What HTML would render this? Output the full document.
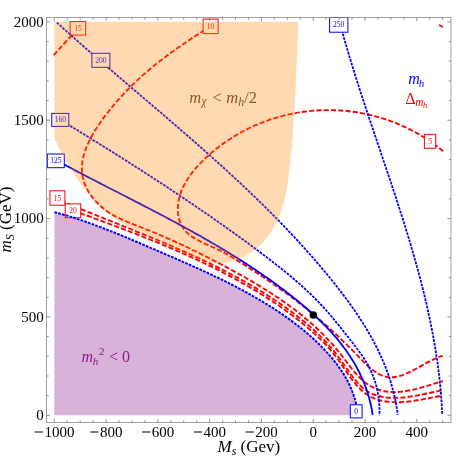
<!DOCTYPE html>
<html><head><meta charset="utf-8"><title>plot</title>
<style>html,body{margin:0;padding:0;background:#fff;}body{width:469px;height:457px;overflow:hidden;position:relative;font-family:"Liberation Serif",serif;}</style>
</head><body>
<svg width="469" height="457" viewBox="0 0 469 457" style="position:absolute;left:0;top:0;will-change:transform;font-family:'Liberation Serif',serif">
<rect width="469" height="457" fill="#fff"/>
<path d="M54.5 212.2C55.1 212.3 57.1 212.8 58.4 213.2C59.7 213.6 61.0 213.9 62.3 214.3C63.6 214.7 64.9 215.0 66.2 215.4C67.5 215.8 68.8 216.2 70.1 216.6C71.4 217.0 72.7 217.4 74.0 217.8C75.3 218.2 76.6 218.7 77.9 219.1C79.1 219.5 80.4 219.9 81.7 220.4C83.0 220.8 84.3 221.2 85.6 221.7C86.9 222.1 88.1 222.6 89.4 223.1C90.7 223.5 92.0 224.0 93.3 224.4C94.5 224.9 95.8 225.4 97.1 225.9C98.4 226.3 99.6 226.8 100.9 227.3C102.2 227.8 103.5 228.3 104.7 228.8C106.0 229.3 107.3 229.8 108.5 230.3C109.8 230.8 111.1 231.3 112.4 231.8C113.6 232.3 114.9 232.8 116.1 233.3C117.4 233.8 118.7 234.3 119.9 234.8C121.2 235.4 122.5 235.9 123.7 236.4C125.0 236.9 126.3 237.5 127.5 238.0C128.8 238.5 130.0 239.0 131.3 239.6C132.5 240.1 133.8 240.6 135.1 241.2C136.3 241.7 137.6 242.2 138.8 242.8C140.1 243.3 141.3 243.9 142.6 244.4C143.8 244.9 145.1 245.5 146.4 246.0C147.6 246.5 148.9 247.1 150.1 247.6C151.4 248.2 152.6 248.7 153.9 249.2C155.1 249.8 156.4 250.3 157.6 250.9C158.9 251.4 160.1 251.9 161.4 252.5C162.6 253.0 163.9 253.5 165.1 254.1C166.4 254.6 167.6 255.2 168.8 255.7C170.1 256.2 171.3 256.8 172.6 257.3C173.8 257.8 175.1 258.4 176.3 258.9C177.6 259.5 178.8 260.0 180.0 260.5C181.3 261.1 182.5 261.6 183.8 262.2C185.0 262.7 186.2 263.3 187.5 263.8C188.7 264.4 189.9 264.9 191.2 265.5C192.4 266.0 193.7 266.6 194.9 267.1C196.1 267.7 197.4 268.2 198.6 268.8C199.8 269.3 201.0 269.9 202.3 270.5C203.5 271.0 204.7 271.6 206.0 272.2C207.2 272.7 208.4 273.3 209.6 273.9C210.9 274.4 212.1 275.0 213.3 275.6C214.5 276.2 215.7 276.8 217.0 277.3C218.2 277.9 219.4 278.5 220.6 279.1C221.8 279.7 223.0 280.3 224.2 280.9C225.5 281.5 226.7 282.1 227.9 282.7C229.1 283.3 230.3 283.9 231.5 284.5C232.7 285.1 233.9 285.8 235.1 286.4C236.3 287.0 237.5 287.6 238.7 288.3C239.9 288.9 241.1 289.5 242.3 290.2C243.5 290.8 244.7 291.5 245.9 292.1C247.1 292.8 248.3 293.4 249.4 294.1C250.6 294.7 251.8 295.4 253.0 296.1C254.2 296.7 255.4 297.4 256.5 298.1C257.7 298.8 258.9 299.5 260.1 300.2C261.3 300.9 262.4 301.6 263.6 302.3C264.8 303.0 265.9 303.7 267.1 304.4C268.3 305.1 269.4 305.9 270.6 306.6C271.7 307.3 272.9 308.1 274.1 308.8C275.2 309.6 276.4 310.3 277.5 311.1C278.6 311.8 279.8 312.6 280.9 313.4C282.1 314.1 283.2 314.9 284.3 315.7C285.5 316.5 286.6 317.3 287.7 318.1C288.8 318.9 289.9 319.7 291.0 320.5C292.1 321.3 293.2 322.1 294.3 323.0C295.4 323.8 296.5 324.6 297.6 325.5C298.7 326.3 299.7 327.2 300.8 328.0C301.9 328.9 302.9 329.7 304.0 330.6C305.0 331.5 306.1 332.4 307.1 333.2C308.2 334.1 309.2 335.0 310.2 335.9C311.2 336.8 312.3 337.8 313.3 338.7C314.3 339.6 315.3 340.5 316.2 341.5C317.2 342.4 318.2 343.3 319.2 344.3C320.1 345.2 321.1 346.2 322.0 347.2C323.0 348.1 323.9 349.1 324.8 350.1C325.8 351.1 326.7 352.1 327.6 353.1C328.5 354.1 329.4 355.1 330.3 356.1C331.2 357.2 332.0 358.2 332.9 359.2C333.7 360.3 334.6 361.3 335.4 362.4C336.2 363.4 337.0 364.5 337.8 365.6C338.6 366.7 339.4 367.8 340.2 368.9C340.9 370.0 341.7 371.1 342.4 372.2C343.1 373.3 343.9 374.5 344.5 375.6C345.2 376.8 345.9 377.9 346.5 379.1C347.2 380.3 347.8 381.5 348.4 382.7C349.0 383.9 349.6 385.1 350.1 386.3C350.7 387.6 351.2 388.8 351.7 390.1C352.2 391.3 352.7 392.6 353.2 393.9C353.6 395.2 354.1 396.5 354.5 397.8C354.9 399.2 355.2 400.5 355.6 401.9C355.9 403.2 356.3 405.3 356.5 406.0 L356 415.2 L54.3 415.2 Z" fill="#800080" fill-opacity="0.3"/>
<g fill="none" stroke="#ff0000" stroke-width="1.9" stroke-dasharray="5.1 2.2">
<path d="M443.2 151.3C442.7 150.9 441.1 149.6 440.0 148.7C438.9 147.8 437.8 147.0 436.7 146.1C435.6 145.3 434.5 144.5 433.3 143.7C432.2 142.8 431.1 142.0 429.9 141.3C428.8 140.5 427.6 139.7 426.5 139.0C425.3 138.2 424.2 137.5 423.0 136.8C421.8 136.0 420.7 135.3 419.5 134.6C418.3 133.9 417.1 133.3 415.9 132.6C414.7 131.9 413.5 131.3 412.3 130.7C411.1 130.0 409.9 129.4 408.7 128.8C407.5 128.2 406.2 127.6 405.0 127.0C403.8 126.5 402.6 125.9 401.3 125.4C400.1 124.8 398.8 124.3 397.6 123.8C396.3 123.2 395.1 122.7 393.8 122.3C392.6 121.8 391.3 121.3 390.0 120.8C388.8 120.4 387.5 119.9 386.2 119.5C384.9 119.1 383.7 118.7 382.4 118.3C381.1 117.9 379.8 117.5 378.5 117.1C377.2 116.8 375.9 116.4 374.6 116.1C373.3 115.7 372.0 115.4 370.7 115.1C369.4 114.8 368.1 114.5 366.8 114.2C365.5 113.9 364.2 113.6 362.9 113.4C361.6 113.1 360.3 112.9 359.0 112.7C357.6 112.4 356.3 112.2 355.0 112.0C353.7 111.8 352.4 111.7 351.0 111.5C349.7 111.3 348.4 111.2 347.1 111.0C345.7 110.9 344.4 110.8 343.1 110.7C341.7 110.6 340.4 110.5 339.1 110.4C337.7 110.3 336.4 110.3 335.1 110.2C333.8 110.2 332.4 110.1 331.1 110.1C329.8 110.1 328.4 110.1 327.1 110.1C325.8 110.1 324.4 110.1 323.1 110.2C321.8 110.2 320.4 110.2 319.1 110.3C317.8 110.4 316.4 110.5 315.1 110.6C313.8 110.7 312.5 110.8 311.1 110.9C309.8 111.0 308.5 111.2 307.1 111.3C305.8 111.5 304.5 111.6 303.2 111.8C301.9 112.0 300.5 112.2 299.2 112.4C297.9 112.6 296.6 112.8 295.3 113.1C294.0 113.3 292.7 113.6 291.3 113.9C290.0 114.1 288.7 114.4 287.4 114.7C286.1 115.0 284.8 115.3 283.5 115.6C282.2 116.0 280.9 116.3 279.7 116.7C278.4 117.0 277.1 117.4 275.8 117.8C274.5 118.2 273.2 118.6 272.0 119.0C270.7 119.4 269.4 119.8 268.2 120.3C266.9 120.7 265.6 121.2 264.4 121.6C263.1 122.1 261.9 122.6 260.6 123.1C259.4 123.6 258.1 124.1 256.9 124.6C255.6 125.2 254.4 125.7 253.2 126.3C251.9 126.8 250.7 127.4 249.5 128.0C248.3 128.6 247.1 129.2 245.9 129.8C244.7 130.4 243.5 131.0 242.3 131.7C241.1 132.3 239.9 133.0 238.7 133.7C237.5 134.3 236.4 135.0 235.2 135.7C234.0 136.4 232.9 137.1 231.7 137.9C230.6 138.6 229.4 139.3 228.3 140.1C227.1 140.9 226.0 141.6 224.9 142.4C223.7 143.2 222.6 144.0 221.5 144.8C220.4 145.6 219.3 146.5 218.2 147.3C217.1 148.2 216.0 149.0 215.0 149.9C213.9 150.8 212.8 151.7 211.7 152.6C210.7 153.5 209.6 154.4 208.6 155.3C207.6 156.2 206.5 157.2 205.5 158.1C204.5 159.1 203.5 160.1 202.5 161.1C201.5 162.0 200.5 163.0 199.5 164.1C198.6 165.1 197.6 166.1 196.7 167.1C195.8 168.2 194.9 169.2 194.0 170.3C193.1 171.4 192.3 172.5 191.5 173.5C190.6 174.6 189.8 175.7 189.1 176.9C188.3 178.0 187.6 179.1 186.9 180.2C186.1 181.4 185.5 182.5 184.8 183.7C184.2 184.9 183.6 186.1 183.0 187.2C182.5 188.4 182.0 189.6 181.5 190.8C181.0 192.1 180.6 193.3 180.2 194.5C179.8 195.7 179.4 197.0 179.1 198.2C178.8 199.5 178.6 200.8 178.4 202.0C178.2 203.3 178.0 204.6 178.0 205.9C177.9 207.2 177.8 208.5 177.8 209.8C177.9 211.1 177.9 212.4 178.1 213.7C178.2 215.0 178.4 216.2 178.7 217.5C178.9 218.7 179.3 219.9 179.7 221.1C180.1 222.3 180.6 223.5 181.1 224.6C181.7 225.7 182.3 226.8 183.0 227.8C183.7 228.9 184.4 229.9 185.3 230.8C186.1 231.7 187.0 232.6 188.0 233.5C189.0 234.3 190.0 235.1 191.1 235.9C192.1 236.7 193.3 237.4 194.4 238.1C195.6 238.8 196.8 239.5 198.0 240.2C199.3 240.9 200.5 241.5 201.8 242.1C203.1 242.8 204.4 243.4 205.7 244.0C207.0 244.6 208.4 245.2 209.7 245.7C211.0 246.3 212.3 246.9 213.6 247.5C214.9 248.1 216.2 248.7 217.5 249.3C218.8 249.9 220.0 250.5 221.3 251.1C222.5 251.7 223.7 252.4 224.9 253.0C226.0 253.7 227.2 254.3 228.3 255.0C229.4 255.7 230.6 256.4 231.7 257.0C232.8 257.7 234.0 258.4 235.1 259.1C236.3 259.8 237.4 260.6 238.6 261.3C239.7 262.0 240.9 262.7 242.0 263.4C243.2 264.1 244.4 264.9 245.5 265.6C246.7 266.3 247.8 267.1 248.9 267.8C250.1 268.5 251.2 269.3 252.4 270.0C253.5 270.7 254.6 271.5 255.8 272.2C256.9 272.9 258.0 273.7 259.2 274.4C260.3 275.2 261.4 275.9 262.5 276.7C263.6 277.4 264.8 278.2 265.9 278.9C267.0 279.7 268.1 280.4 269.2 281.2C270.3 281.9 271.4 282.7 272.5 283.5C273.6 284.2 274.7 285.0 275.8 285.8C276.9 286.5 278.0 287.3 279.1 288.1C280.2 288.8 281.3 289.6 282.3 290.4C283.4 291.2 284.5 292.0 285.6 292.8C286.6 293.5 287.7 294.3 288.8 295.1C289.9 295.9 290.9 296.7 292.0 297.5C293.1 298.3 294.1 299.1 295.2 299.9C296.2 300.7 297.3 301.5 298.3 302.4C299.4 303.2 300.5 304.0 301.5 304.8C302.5 305.6 303.6 306.5 304.6 307.3C305.7 308.1 306.7 309.0 307.8 309.8C308.8 310.6 309.8 311.5 310.9 312.3C311.9 313.2 312.9 314.0 313.9 314.9C315.0 315.7 316.0 316.6 317.0 317.5C318.0 318.3 319.1 319.2 320.1 320.1C321.1 320.9 322.1 321.8 323.1 322.7C324.1 323.6 325.1 324.5 326.2 325.4C327.2 326.2 328.2 327.1 329.2 328.0C330.2 328.9 331.2 329.9 332.2 330.8C333.2 331.7 334.2 332.6 335.2 333.5C336.1 334.4 337.1 335.4 338.1 336.3C339.1 337.2 340.1 338.2 341.1 339.1C342.1 340.1 343.1 341.0 344.0 342.0C345.0 342.9 346.0 343.9 347.0 344.8C347.9 345.8 348.9 346.8 349.9 347.8C350.9 348.7 351.8 349.7 352.8 350.7C353.8 351.7 354.7 352.7 355.7 353.7C356.7 354.7 357.6 355.7 358.6 356.7C359.5 357.7 360.5 358.7 361.5 359.7C362.4 360.7 363.4 361.7 364.4 362.7C365.4 363.6 366.3 364.6 367.3 365.5C368.3 366.4 369.3 367.3 370.3 368.1C371.3 369.0 372.3 369.8 373.4 370.5C374.4 371.3 375.4 372.0 376.5 372.7C377.5 373.3 378.6 373.9 379.7 374.5C380.8 375.0 381.9 375.5 383.0 375.9C384.2 376.3 385.3 376.6 386.5 376.8C387.7 377.1 388.9 377.2 390.1 377.3C391.3 377.4 392.6 377.3 393.8 377.2C395.1 377.1 396.4 376.8 397.7 376.5C399.1 376.2 400.4 375.8 401.8 375.4C403.1 374.9 404.5 374.4 405.9 373.8C407.2 373.2 408.6 372.6 410.0 371.9C411.3 371.3 412.7 370.6 414.0 369.9C415.4 369.2 416.7 368.5 418.0 367.7C419.3 367.0 420.6 366.3 421.8 365.6C423.1 364.9 424.3 364.2 425.5 363.5C426.6 362.9 427.8 362.3 428.9 361.7C430.0 361.1 431.1 360.5 432.2 360.0C433.4 359.4 434.5 358.9 435.6 358.4C436.7 357.9 437.9 357.4 439.1 357.0C440.2 356.5 442.1 355.8 442.7 355.6"/>
<path d="M210.9 26.1C210.3 26.5 208.5 27.6 207.3 28.4C206.1 29.1 204.9 29.9 203.7 30.6C202.6 31.4 201.4 32.1 200.2 32.9C199.1 33.6 197.9 34.4 196.7 35.1C195.6 35.9 194.4 36.6 193.3 37.4C192.1 38.1 191.0 38.9 189.9 39.6C188.7 40.4 187.6 41.1 186.5 41.9C185.4 42.7 184.2 43.4 183.1 44.2C182.0 44.9 180.9 45.7 179.8 46.5C178.7 47.2 177.6 48.0 176.5 48.8C175.4 49.5 174.3 50.3 173.3 51.1C172.2 51.9 171.1 52.6 170.0 53.4C168.9 54.2 167.9 55.0 166.8 55.8C165.8 56.6 164.7 57.4 163.7 58.2C162.6 59.0 161.6 59.8 160.5 60.6C159.5 61.4 158.4 62.2 157.4 63.0C156.4 63.8 155.3 64.7 154.3 65.5C153.3 66.3 152.3 67.2 151.3 68.0C150.3 68.8 149.3 69.7 148.3 70.5C147.3 71.4 146.3 72.2 145.3 73.1C144.3 74.0 143.3 74.8 142.3 75.7C141.3 76.6 140.3 77.5 139.4 78.4C138.4 79.3 137.4 80.2 136.5 81.1C135.5 82.0 134.5 82.9 133.6 83.8C132.6 84.7 131.7 85.7 130.7 86.6C129.8 87.6 128.8 88.5 127.9 89.5C127.0 90.4 126.0 91.4 125.1 92.4C124.2 93.3 123.3 94.3 122.3 95.3C121.4 96.3 120.5 97.3 119.6 98.3C118.7 99.3 117.8 100.4 116.9 101.4C116.0 102.4 115.1 103.5 114.2 104.5C113.3 105.6 112.4 106.6 111.5 107.7C110.7 108.8 109.8 109.9 108.9 111.0C108.0 112.1 107.2 113.2 106.3 114.3C105.4 115.4 104.6 116.6 103.7 117.7C102.9 118.8 102.0 120.0 101.2 121.2C100.4 122.3 99.6 123.5 98.8 124.7C98.0 125.8 97.2 127.0 96.5 128.2C95.7 129.4 94.9 130.6 94.2 131.8C93.5 133.0 92.8 134.2 92.1 135.5C91.5 136.7 90.8 137.9 90.2 139.1C89.6 140.3 89.0 141.6 88.4 142.8C87.8 144.0 87.3 145.3 86.8 146.5C86.3 147.8 85.8 149.0 85.4 150.2C84.9 151.5 84.5 152.7 84.2 154.0C83.8 155.2 83.5 156.5 83.2 157.7C83.0 159.0 82.7 160.2 82.5 161.4C82.3 162.7 82.2 163.9 82.1 165.2C82.0 166.4 81.9 167.7 81.9 168.9C81.9 170.1 82.0 171.4 82.1 172.6C82.2 173.8 82.4 175.0 82.6 176.3C82.8 177.5 83.1 178.7 83.4 179.9C83.7 181.1 84.1 182.3 84.6 183.5C85.0 184.7 85.5 185.9 86.1 187.1C86.6 188.2 87.2 189.4 87.9 190.6C88.5 191.7 89.2 192.8 90.0 194.0C90.7 195.1 91.5 196.2 92.3 197.2C93.2 198.3 94.0 199.4 95.0 200.4C95.9 201.4 96.8 202.4 97.8 203.4C98.7 204.4 99.7 205.3 100.8 206.3C101.8 207.2 102.9 208.1 104.0 208.9C105.0 209.8 106.1 210.6 107.3 211.4C108.4 212.2 109.5 212.9 110.7 213.7C111.9 214.4 113.1 215.1 114.2 215.7C115.4 216.4 116.6 217.0 117.9 217.6C119.1 218.2 120.3 218.8 121.6 219.4C122.8 220.0 124.1 220.5 125.3 221.0C126.6 221.6 127.8 222.1 129.1 222.6C130.4 223.1 131.7 223.6 132.9 224.1C134.2 224.6 135.5 225.1 136.8 225.6C138.0 226.1 139.3 226.6 140.6 227.1C141.8 227.6 143.1 228.1 144.4 228.6C145.6 229.1 146.9 229.6 148.2 230.1C149.4 230.6 150.7 231.1 151.9 231.6C153.2 232.2 154.4 232.7 155.7 233.2C156.9 233.7 158.2 234.2 159.4 234.8C160.7 235.3 161.9 235.8 163.1 236.4C164.4 236.9 165.6 237.4 166.8 238.0C168.1 238.5 169.3 239.1 170.5 239.6C171.8 240.2 173.0 240.7 174.2 241.3C175.4 241.8 176.7 242.4 177.9 242.9C179.1 243.5 180.3 244.0 181.5 244.6C182.7 245.2 184.0 245.7 185.2 246.3C186.4 246.9 187.6 247.4 188.8 248.0C190.0 248.6 191.2 249.2 192.4 249.8C193.6 250.3 194.8 250.9 196.0 251.5C197.2 252.1 198.4 252.7 199.6 253.3C200.8 253.9 202.0 254.5 203.2 255.1C204.4 255.7 205.6 256.3 206.8 256.9C208.0 257.5 209.2 258.1 210.4 258.7C211.6 259.3 212.7 259.9 213.9 260.5C215.1 261.1 216.3 261.8 217.5 262.4C218.7 263.0 219.9 263.6 221.0 264.3C222.2 264.9 223.4 265.5 224.6 266.1C225.8 266.8 226.9 267.4 228.1 268.1C229.3 268.7 230.5 269.3 231.7 270.0C232.8 270.6 234.0 271.3 235.2 271.9C236.4 272.6 237.6 273.2 238.7 273.9C239.9 274.5 241.1 275.2 242.2 275.8C243.4 276.5 244.6 277.2 245.8 277.8C246.9 278.5 248.1 279.2 249.3 279.9C250.4 280.5 251.6 281.2 252.7 281.9C253.9 282.6 255.1 283.3 256.2 284.0C257.4 284.7 258.5 285.4 259.7 286.1C260.8 286.8 262.0 287.5 263.1 288.2C264.3 288.9 265.4 289.6 266.6 290.3C267.7 291.0 268.8 291.8 270.0 292.5C271.1 293.2 272.2 294.0 273.4 294.7C274.5 295.4 275.6 296.2 276.7 296.9C277.8 297.7 279.0 298.4 280.1 299.2C281.2 300.0 282.3 300.7 283.4 301.5C284.5 302.3 285.6 303.1 286.7 303.8C287.8 304.6 288.9 305.4 290.0 306.2C291.0 307.0 292.1 307.8 293.2 308.6C294.3 309.4 295.3 310.2 296.4 311.1C297.5 311.9 298.5 312.7 299.6 313.6C300.6 314.4 301.7 315.2 302.7 316.1C303.8 316.9 304.8 317.8 305.8 318.7C306.9 319.5 307.9 320.4 308.9 321.3C309.9 322.2 311.0 323.1 312.0 323.9C313.0 324.8 314.0 325.7 315.0 326.7C316.0 327.6 316.9 328.5 317.9 329.4C318.9 330.3 319.9 331.3 320.8 332.2C321.8 333.2 322.8 334.1 323.7 335.1C324.7 336.0 325.6 337.0 326.5 338.0C327.5 339.0 328.4 339.9 329.3 340.9C330.3 341.9 331.2 342.9 332.1 343.9C333.0 345.0 333.9 346.0 334.8 347.0C335.7 348.0 336.5 349.1 337.4 350.1C338.3 351.2 339.1 352.2 340.0 353.3C340.9 354.4 341.7 355.5 342.5 356.5C343.4 357.6 344.2 358.7 345.0 359.8C345.9 360.9 346.7 362.0 347.5 363.1C348.3 364.2 349.2 365.3 350.0 366.4C350.8 367.5 351.7 368.5 352.5 369.6C353.3 370.6 354.2 371.7 355.1 372.7C355.9 373.7 356.8 374.7 357.7 375.6C358.6 376.6 359.5 377.5 360.4 378.4C361.3 379.3 362.3 380.2 363.3 381.0C364.2 381.8 365.2 382.6 366.2 383.3C367.3 384.1 368.3 384.8 369.4 385.4C370.4 386.1 371.5 386.7 372.7 387.2C373.8 387.8 374.9 388.3 376.1 388.8C377.2 389.2 378.4 389.6 379.6 390.0C380.8 390.4 382.0 390.7 383.3 391.0C384.5 391.2 385.8 391.5 387.1 391.6C388.3 391.8 389.6 391.9 391.0 392.0C392.3 392.1 393.6 392.1 394.9 392.1C396.3 392.1 397.6 392.0 399.0 391.9C400.3 391.8 401.7 391.6 403.1 391.5C404.5 391.3 405.9 391.1 407.2 390.8C408.6 390.6 410.0 390.3 411.4 390.0C412.8 389.7 414.2 389.4 415.6 389.1C416.9 388.7 418.3 388.4 419.7 388.0C421.1 387.7 422.4 387.3 423.8 386.9C425.1 386.5 426.5 386.1 427.8 385.7C429.1 385.3 430.4 384.9 431.7 384.5C433.0 384.1 434.3 383.6 435.6 383.3C436.8 382.9 438.0 382.5 439.3 382.1C440.5 381.7 442.2 381.2 442.8 381.0"/>
<path d="M54.0 197.8C54.6 198.1 56.4 198.9 57.6 199.4C58.9 199.9 60.1 200.4 61.3 200.9C62.5 201.5 63.7 202.0 65.0 202.5C66.2 203.0 67.4 203.5 68.6 204.0C69.9 204.5 71.1 205.1 72.3 205.6C73.6 206.1 74.8 206.6 76.0 207.1C77.3 207.6 78.5 208.1 79.7 208.6C81.0 209.1 82.2 209.6 83.5 210.1C84.7 210.6 85.9 211.2 87.2 211.7C88.4 212.2 89.7 212.7 90.9 213.2C92.1 213.7 93.4 214.2 94.6 214.7C95.9 215.2 97.1 215.7 98.4 216.2C99.6 216.7 100.9 217.2 102.1 217.7C103.3 218.2 104.6 218.7 105.8 219.2C107.1 219.7 108.3 220.2 109.6 220.7C110.8 221.2 112.1 221.7 113.3 222.2C114.6 222.7 115.8 223.2 117.1 223.7C118.3 224.2 119.6 224.7 120.8 225.2C122.1 225.7 123.3 226.2 124.6 226.7C125.8 227.2 127.1 227.7 128.3 228.2C129.6 228.7 130.9 229.2 132.1 229.7C133.4 230.2 134.6 230.7 135.9 231.3C137.1 231.8 138.4 232.3 139.6 232.8C140.9 233.3 142.1 233.8 143.4 234.3C144.6 234.8 145.9 235.3 147.1 235.8C148.4 236.4 149.6 236.9 150.9 237.4C152.1 237.9 153.4 238.4 154.6 238.9C155.9 239.5 157.1 240.0 158.4 240.5C159.6 241.0 160.8 241.5 162.1 242.1C163.3 242.6 164.6 243.1 165.8 243.6C167.1 244.2 168.3 244.7 169.6 245.2C170.8 245.8 172.0 246.3 173.3 246.8C174.5 247.4 175.8 247.9 177.0 248.5C178.2 249.0 179.5 249.5 180.7 250.1C181.9 250.6 183.2 251.2 184.4 251.7C185.6 252.3 186.9 252.8 188.1 253.4C189.3 253.9 190.6 254.5 191.8 255.0C193.0 255.6 194.3 256.2 195.5 256.7C196.7 257.3 197.9 257.9 199.2 258.4C200.4 259.0 201.6 259.6 202.8 260.1C204.0 260.7 205.3 261.3 206.5 261.9C207.7 262.5 208.9 263.0 210.1 263.6C211.3 264.2 212.5 264.8 213.7 265.4C215.0 266.0 216.2 266.6 217.4 267.2C218.6 267.8 219.8 268.4 221.0 269.0C222.2 269.6 223.4 270.2 224.6 270.8C225.8 271.5 227.0 272.1 228.2 272.7C229.3 273.3 230.5 273.9 231.7 274.6C232.9 275.2 234.1 275.8 235.3 276.5C236.5 277.1 237.6 277.8 238.8 278.4C240.0 279.0 241.2 279.7 242.3 280.3C243.5 281.0 244.7 281.7 245.9 282.3C247.0 283.0 248.2 283.6 249.3 284.3C250.5 285.0 251.7 285.7 252.8 286.3C254.0 287.0 255.1 287.7 256.3 288.4C257.4 289.1 258.6 289.8 259.7 290.5C260.9 291.2 262.0 291.9 263.2 292.6C264.3 293.3 265.4 294.0 266.6 294.7C267.7 295.4 268.8 296.2 269.9 296.9C271.1 297.6 272.2 298.4 273.3 299.1C274.4 299.8 275.5 300.6 276.7 301.3C277.8 302.1 278.9 302.8 280.0 303.6C281.1 304.3 282.2 305.1 283.3 305.9C284.4 306.7 285.5 307.4 286.6 308.2C287.7 309.0 288.8 309.8 289.8 310.6C290.9 311.4 292.0 312.2 293.1 313.0C294.2 313.8 295.2 314.6 296.3 315.4C297.4 316.2 298.4 317.1 299.5 317.9C300.5 318.7 301.6 319.6 302.6 320.4C303.7 321.3 304.7 322.1 305.7 323.0C306.8 323.8 307.8 324.7 308.8 325.6C309.8 326.5 310.9 327.3 311.9 328.2C312.9 329.1 313.9 330.0 314.9 331.0C315.9 331.9 316.8 332.8 317.8 333.7C318.8 334.7 319.8 335.6 320.7 336.6C321.7 337.5 322.6 338.5 323.6 339.5C324.5 340.4 325.4 341.4 326.3 342.4C327.3 343.4 328.2 344.4 329.1 345.4C330.0 346.5 330.9 347.5 331.7 348.5C332.6 349.6 333.5 350.6 334.4 351.7C335.2 352.8 336.1 353.9 336.9 354.9C337.7 356.0 338.5 357.1 339.4 358.3C340.2 359.4 341.0 360.5 341.8 361.6C342.6 362.8 343.3 363.9 344.1 365.0C344.9 366.2 345.7 367.3 346.5 368.4C347.3 369.5 348.1 370.7 348.9 371.8C349.7 372.9 350.4 374.0 351.3 375.0C352.1 376.1 352.9 377.2 353.7 378.2C354.5 379.2 355.4 380.2 356.2 381.2C357.1 382.2 358.0 383.2 358.8 384.1C359.7 385.0 360.6 385.9 361.6 386.7C362.5 387.5 363.5 388.3 364.5 389.1C365.4 389.9 366.4 390.6 367.5 391.2C368.5 391.9 369.6 392.5 370.7 393.0C371.8 393.6 372.9 394.1 374.1 394.5C375.3 395.0 376.5 395.4 377.7 395.7C378.9 396.1 380.1 396.4 381.4 396.6C382.7 396.9 384.0 397.1 385.3 397.3C386.6 397.5 387.9 397.6 389.2 397.7C390.6 397.8 391.9 397.8 393.3 397.9C394.6 397.9 396.0 397.9 397.4 397.8C398.8 397.8 400.2 397.7 401.6 397.6C403.0 397.5 404.4 397.4 405.8 397.2C407.2 397.0 408.6 396.8 410.0 396.6C411.4 396.4 412.8 396.2 414.2 396.0C415.6 395.7 417.0 395.5 418.4 395.2C419.8 394.9 421.2 394.6 422.5 394.4C423.9 394.1 425.3 393.8 426.6 393.5C428.0 393.2 429.3 392.9 430.6 392.7C431.9 392.4 433.2 392.1 434.5 391.9C435.8 391.6 437.0 391.3 438.3 391.1C439.5 390.9 441.3 390.6 441.9 390.5"/>
<path d="M73.1 210.5C73.7 210.7 75.6 211.4 76.9 211.9C78.1 212.3 79.4 212.8 80.6 213.2C81.9 213.7 83.1 214.2 84.4 214.6C85.6 215.1 86.9 215.5 88.2 216.0C89.4 216.5 90.7 216.9 91.9 217.4C93.2 217.9 94.4 218.3 95.7 218.8C97.0 219.3 98.2 219.7 99.5 220.2C100.7 220.7 102.0 221.1 103.3 221.6C104.5 222.1 105.8 222.6 107.1 223.0C108.3 223.5 109.6 224.0 110.9 224.4C112.1 224.9 113.4 225.4 114.7 225.9C115.9 226.3 117.2 226.8 118.5 227.3C119.7 227.8 121.0 228.3 122.3 228.7C123.5 229.2 124.8 229.7 126.1 230.2C127.3 230.7 128.6 231.2 129.9 231.7C131.1 232.1 132.4 232.6 133.7 233.1C134.9 233.6 136.2 234.1 137.5 234.6C138.7 235.1 140.0 235.6 141.2 236.1C142.5 236.6 143.8 237.1 145.0 237.6C146.3 238.1 147.6 238.6 148.8 239.1C150.1 239.6 151.4 240.1 152.6 240.6C153.9 241.1 155.2 241.7 156.4 242.2C157.7 242.7 158.9 243.2 160.2 243.7C161.5 244.2 162.7 244.8 164.0 245.3C165.2 245.8 166.5 246.3 167.7 246.9C169.0 247.4 170.3 247.9 171.5 248.5C172.8 249.0 174.0 249.5 175.3 250.1C176.5 250.6 177.8 251.2 179.0 251.7C180.3 252.2 181.5 252.8 182.8 253.3C184.0 253.9 185.3 254.4 186.5 255.0C187.7 255.6 189.0 256.1 190.2 256.7C191.5 257.2 192.7 257.8 193.9 258.4C195.2 258.9 196.4 259.5 197.7 260.1C198.9 260.7 200.1 261.2 201.4 261.8C202.6 262.4 203.8 263.0 205.0 263.6C206.3 264.2 207.5 264.7 208.7 265.3C209.9 265.9 211.2 266.5 212.4 267.1C213.6 267.7 214.8 268.3 216.0 268.9C217.3 269.6 218.5 270.2 219.7 270.8C220.9 271.4 222.1 272.0 223.3 272.6C224.5 273.3 225.7 273.9 226.9 274.5C228.1 275.2 229.3 275.8 230.5 276.4C231.7 277.1 232.9 277.7 234.1 278.4C235.3 279.0 236.5 279.7 237.7 280.3C238.8 281.0 240.0 281.6 241.2 282.3C242.4 282.9 243.6 283.6 244.7 284.3C245.9 285.0 247.1 285.6 248.3 286.3C249.4 287.0 250.6 287.7 251.7 288.4C252.9 289.1 254.1 289.8 255.2 290.4C256.4 291.1 257.5 291.8 258.7 292.6C259.8 293.3 261.0 294.0 262.1 294.7C263.3 295.4 264.4 296.1 265.5 296.9C266.7 297.6 267.8 298.3 268.9 299.1C270.1 299.8 271.2 300.5 272.3 301.3C273.4 302.0 274.6 302.8 275.7 303.5C276.8 304.3 277.9 305.0 279.0 305.8C280.1 306.6 281.2 307.4 282.3 308.1C283.4 308.9 284.5 309.7 285.6 310.5C286.7 311.3 287.8 312.1 288.9 312.9C290.0 313.7 291.0 314.5 292.1 315.3C293.2 316.1 294.3 316.9 295.3 317.7C296.4 318.5 297.4 319.4 298.5 320.2C299.6 321.0 300.6 321.9 301.7 322.7C302.7 323.6 303.8 324.4 304.8 325.3C305.8 326.1 306.9 327.0 307.9 327.9C308.9 328.7 310.0 329.6 311.0 330.5C312.0 331.4 313.0 332.3 314.0 333.2C315.0 334.1 316.0 335.0 317.0 335.9C318.0 336.8 318.9 337.8 319.9 338.7C320.9 339.7 321.8 340.6 322.8 341.6C323.7 342.6 324.7 343.6 325.6 344.5C326.5 345.5 327.4 346.5 328.3 347.6C329.2 348.6 330.1 349.6 331.0 350.7C331.9 351.7 332.8 352.8 333.6 353.9C334.5 354.9 335.3 356.0 336.2 357.2C337.0 358.3 337.8 359.4 338.6 360.5C339.4 361.7 340.2 362.8 341.0 363.9C341.8 365.1 342.6 366.2 343.4 367.4C344.2 368.5 345.0 369.7 345.8 370.8C346.5 372.0 347.3 373.1 348.1 374.2C348.9 375.3 349.7 376.5 350.5 377.6C351.3 378.6 352.1 379.7 353.0 380.8C353.8 381.8 354.6 382.9 355.5 383.9C356.3 384.9 357.2 385.9 358.1 386.8C359.0 387.7 359.9 388.7 360.8 389.5C361.7 390.4 362.7 391.3 363.6 392.1C364.6 392.8 365.6 393.6 366.6 394.3C367.6 395.0 368.7 395.7 369.8 396.3C370.8 396.9 372.0 397.4 373.1 397.9C374.2 398.4 375.4 398.9 376.6 399.3C377.8 399.7 379.0 400.1 380.3 400.4C381.5 400.7 382.8 401.0 384.0 401.2C385.3 401.4 386.6 401.6 388.0 401.8C389.3 401.9 390.6 402.0 392.0 402.1C393.3 402.2 394.7 402.2 396.1 402.2C397.4 402.3 398.8 402.2 400.2 402.2C401.6 402.1 403.0 402.0 404.4 401.9C405.8 401.8 407.2 401.7 408.7 401.5C410.1 401.4 411.5 401.2 412.9 401.0C414.3 400.8 415.7 400.6 417.1 400.3C418.6 400.1 420.0 399.9 421.4 399.6C422.8 399.4 424.1 399.1 425.5 398.8C426.9 398.6 428.3 398.3 429.6 398.0C431.0 397.8 432.3 397.5 433.6 397.3C434.9 397.0 436.2 396.8 437.5 396.5C438.8 396.3 440.6 396.0 441.3 395.9"/>
<path d="M53.8 55.1C57.8 50.6 74.0 32.9 78.0 28.4"/>
<path d="M439.0 25.0C439.7 25.3 442.3 26.7 443.0 27.0"/>
</g>
<rect x="70.2" y="21.6" width="15.5" height="13.5" fill="#fff" stroke="#ff0000" stroke-width="1"/><text x="78.0" y="30.9" font-size="7.5" fill="#ff0000" text-anchor="middle">15</text>
<rect x="203.1" y="19.1" width="15.0" height="14.5" fill="#fff" stroke="#ff0000" stroke-width="1"/><text x="210.6" y="28.8" font-size="7.5" fill="#ff0000" text-anchor="middle">10</text>
<rect x="49.9" y="190.8" width="15.0" height="14.4" fill="#fff" stroke="#ff0000" stroke-width="1"/><text x="57.4" y="200.5" font-size="7.5" fill="#ff0000" text-anchor="middle">15</text>
<rect x="65.2" y="203.9" width="15.5" height="13.8" fill="#fff" stroke="#ff0000" stroke-width="1"/><text x="73.0" y="213.3" font-size="7.5" fill="#ff0000" text-anchor="middle">20</text>
<rect x="424.4" y="134.3" width="11.3" height="14.0" fill="#fff" stroke="#ff0000" stroke-width="1"/><text x="430.0" y="143.8" font-size="7.5" fill="#ff0000" text-anchor="middle">5</text>
<g fill="none" stroke="#0000ff" stroke-width="1.8" stroke-dasharray="2.7 1.1">
<path d="M56.8 22.6C57.3 23.0 58.8 24.3 59.8 25.2C60.8 26.1 61.8 27.0 62.8 27.9C63.7 28.8 64.7 29.7 65.7 30.6C66.7 31.5 67.7 32.3 68.7 33.2C69.7 34.1 70.7 35.0 71.7 35.9C72.7 36.8 73.7 37.7 74.7 38.6C75.7 39.4 76.7 40.3 77.7 41.2C78.7 42.1 79.7 43.0 80.7 43.9C81.7 44.7 82.7 45.6 83.7 46.5C84.7 47.4 85.7 48.3 86.7 49.1C87.7 50.0 88.8 50.9 89.8 51.8C90.8 52.7 91.8 53.5 92.8 54.4C93.8 55.3 94.8 56.2 95.8 57.1C96.8 57.9 97.9 58.8 98.9 59.7C99.9 60.6 100.9 61.4 101.9 62.3C102.9 63.2 104.0 64.1 105.0 64.9C106.0 65.8 107.0 66.7 108.0 67.6C109.0 68.5 110.1 69.3 111.1 70.2C112.1 71.1 113.1 72.0 114.1 72.8C115.2 73.7 116.2 74.6 117.2 75.5C118.2 76.3 119.3 77.2 120.3 78.1C121.3 79.0 122.3 79.8 123.4 80.7C124.4 81.6 125.4 82.5 126.4 83.3C127.4 84.2 128.5 85.1 129.5 86.0C130.5 86.8 131.6 87.7 132.6 88.6C133.6 89.4 134.6 90.3 135.7 91.2C136.7 92.1 137.7 93.0 138.7 93.8C139.8 94.7 140.8 95.6 141.8 96.5C142.8 97.3 143.9 98.2 144.9 99.1C145.9 100.0 147.0 100.8 148.0 101.7C149.0 102.6 150.0 103.5 151.1 104.3C152.1 105.2 153.1 106.1 154.1 107.0C155.2 107.8 156.2 108.7 157.2 109.6C158.3 110.5 159.3 111.4 160.3 112.2C161.3 113.1 162.4 114.0 163.4 114.9C164.4 115.8 165.4 116.6 166.5 117.5C167.5 118.4 168.5 119.3 169.5 120.2C170.6 121.0 171.6 121.9 172.6 122.8C173.6 123.7 174.7 124.6 175.7 125.5C176.7 126.3 177.7 127.2 178.8 128.1C179.8 129.0 180.8 129.9 181.8 130.8C182.8 131.7 183.9 132.5 184.9 133.4C185.9 134.3 186.9 135.2 188.0 136.1C189.0 137.0 190.0 137.9 191.0 138.8C192.0 139.7 193.1 140.6 194.1 141.4C195.1 142.3 196.1 143.2 197.1 144.1C198.1 145.0 199.2 145.9 200.2 146.8C201.2 147.7 202.2 148.6 203.2 149.5C204.2 150.4 205.2 151.3 206.2 152.2C207.3 153.1 208.3 154.0 209.3 154.9C210.3 155.8 211.3 156.7 212.3 157.6C213.3 158.5 214.3 159.4 215.3 160.3C216.3 161.2 217.3 162.1 218.3 163.0C219.3 163.9 220.4 164.8 221.4 165.7C222.4 166.7 223.4 167.6 224.4 168.5C225.4 169.4 226.4 170.3 227.4 171.2C228.4 172.1 229.3 173.0 230.3 174.0C231.3 174.9 232.3 175.8 233.3 176.7C234.3 177.6 235.3 178.6 236.3 179.5C237.3 180.4 238.3 181.3 239.3 182.2C240.3 183.2 241.2 184.1 242.2 185.0C243.2 185.9 244.2 186.9 245.2 187.8C246.2 188.7 247.1 189.7 248.1 190.6C249.1 191.5 250.1 192.5 251.1 193.4C252.0 194.3 253.0 195.3 254.0 196.2C254.9 197.1 255.9 198.1 256.9 199.0C257.9 199.9 258.8 200.9 259.8 201.8C260.8 202.8 261.7 203.7 262.7 204.7C263.6 205.6 264.6 206.6 265.6 207.5C266.5 208.5 267.5 209.4 268.4 210.4C269.4 211.3 270.4 212.3 271.3 213.2C272.3 214.2 273.2 215.1 274.2 216.1C275.1 217.1 276.1 218.0 277.0 219.0C277.9 220.0 278.9 220.9 279.8 221.9C280.8 222.9 281.7 223.8 282.6 224.8C283.6 225.8 284.5 226.7 285.4 227.7C286.4 228.7 287.3 229.7 288.2 230.6C289.2 231.6 290.1 232.6 291.0 233.6C291.9 234.6 292.9 235.5 293.8 236.5C294.7 237.5 295.6 238.5 296.5 239.5C297.5 240.5 298.4 241.5 299.3 242.5C300.2 243.5 301.1 244.5 302.0 245.5C302.9 246.5 303.8 247.5 304.7 248.5C305.6 249.5 306.5 250.5 307.4 251.5C308.3 252.5 309.2 253.5 310.1 254.5C311.0 255.5 311.9 256.5 312.8 257.5C313.6 258.6 314.5 259.6 315.4 260.6C316.3 261.6 317.2 262.6 318.0 263.7C318.9 264.7 319.8 265.7 320.7 266.7C321.5 267.8 322.4 268.8 323.3 269.8C324.1 270.9 325.0 271.9 325.9 272.9C326.7 274.0 327.6 275.0 328.4 276.1C329.3 277.1 330.1 278.1 331.0 279.2C331.8 280.2 332.7 281.3 333.5 282.3C334.4 283.4 335.2 284.5 336.0 285.5C336.9 286.6 337.7 287.6 338.5 288.7C339.4 289.8 340.2 290.8 341.0 291.9C341.8 293.0 342.6 294.0 343.5 295.1C344.3 296.2 345.1 297.3 345.9 298.3C346.7 299.4 347.5 300.5 348.3 301.6C349.1 302.7 349.9 303.8 350.6 304.9C351.4 306.0 352.2 307.1 353.0 308.2C353.7 309.3 354.5 310.4 355.3 311.5C356.0 312.6 356.8 313.7 357.5 314.8C358.3 315.9 359.0 317.0 359.7 318.2C360.5 319.3 361.2 320.4 361.9 321.5C362.6 322.7 363.4 323.8 364.1 324.9C364.8 326.1 365.5 327.2 366.2 328.4C366.8 329.5 367.5 330.6 368.2 331.8C368.9 333.0 369.5 334.1 370.2 335.3C370.9 336.4 371.5 337.6 372.2 338.8C372.8 339.9 373.4 341.1 374.1 342.3C374.7 343.5 375.3 344.6 375.9 345.8C376.5 347.0 377.1 348.2 377.7 349.4C378.3 350.6 378.9 351.8 379.4 353.0C380.0 354.2 380.5 355.4 381.1 356.6C381.6 357.9 382.2 359.1 382.7 360.3C383.2 361.5 383.7 362.8 384.3 364.0C384.8 365.2 385.3 366.5 385.7 367.7C386.2 369.0 386.7 370.2 387.1 371.5C387.6 372.7 388.1 374.0 388.5 375.2C388.9 376.5 389.4 377.8 389.8 379.1C390.2 380.3 390.6 381.6 391.0 382.9C391.4 384.2 391.7 385.5 392.1 386.8C392.5 388.1 392.8 389.4 393.1 390.7C393.5 392.0 393.8 393.3 394.1 394.6C394.4 396.0 394.7 397.3 395.0 398.6C395.3 400.0 395.5 401.3 395.8 402.6C396.1 404.0 396.3 405.3 396.5 406.7C396.7 408.1 397.0 409.4 397.2 410.8C397.4 412.2 397.6 414.2 397.7 414.9"/>
<path d="M60.4 119.8C61.0 120.1 62.7 121.2 63.8 121.9C65.0 122.6 66.1 123.3 67.3 124.0C68.4 124.7 69.6 125.4 70.7 126.1C71.9 126.8 73.0 127.5 74.2 128.2C75.3 128.9 76.4 129.6 77.6 130.3C78.7 131.0 79.9 131.7 81.0 132.5C82.2 133.2 83.3 133.9 84.5 134.6C85.6 135.3 86.8 136.0 87.9 136.7C89.0 137.4 90.2 138.1 91.3 138.8C92.5 139.5 93.6 140.3 94.8 141.0C95.9 141.7 97.1 142.4 98.2 143.1C99.3 143.8 100.5 144.5 101.6 145.2C102.8 146.0 103.9 146.7 105.1 147.4C106.2 148.1 107.4 148.8 108.5 149.5C109.6 150.3 110.8 151.0 111.9 151.7C113.1 152.4 114.2 153.1 115.3 153.9C116.5 154.6 117.6 155.3 118.8 156.0C119.9 156.7 121.1 157.5 122.2 158.2C123.3 158.9 124.5 159.6 125.6 160.3C126.8 161.1 127.9 161.8 129.0 162.5C130.2 163.2 131.3 164.0 132.4 164.7C133.6 165.4 134.7 166.1 135.9 166.9C137.0 167.6 138.1 168.3 139.3 169.1C140.4 169.8 141.5 170.5 142.7 171.3C143.8 172.0 144.9 172.7 146.1 173.4C147.2 174.2 148.3 174.9 149.5 175.6C150.6 176.4 151.7 177.1 152.9 177.9C154.0 178.6 155.1 179.3 156.3 180.1C157.4 180.8 158.5 181.5 159.7 182.3C160.8 183.0 161.9 183.8 163.1 184.5C164.2 185.2 165.3 186.0 166.4 186.7C167.6 187.5 168.7 188.2 169.8 189.0C171.0 189.7 172.1 190.4 173.2 191.2C174.3 191.9 175.5 192.7 176.6 193.4C177.7 194.2 178.8 194.9 179.9 195.7C181.1 196.4 182.2 197.2 183.3 197.9C184.4 198.7 185.6 199.4 186.7 200.2C187.8 201.0 188.9 201.7 190.0 202.5C191.1 203.2 192.3 204.0 193.4 204.7C194.5 205.5 195.6 206.3 196.7 207.0C197.8 207.8 199.0 208.5 200.1 209.3C201.2 210.1 202.3 210.8 203.4 211.6C204.5 212.4 205.6 213.1 206.7 213.9C207.9 214.7 209.0 215.4 210.1 216.2C211.2 217.0 212.3 217.7 213.4 218.5C214.5 219.3 215.6 220.1 216.7 220.8C217.8 221.6 218.9 222.4 220.0 223.2C221.1 223.9 222.2 224.7 223.3 225.5C224.4 226.3 225.5 227.0 226.6 227.8C227.7 228.6 228.8 229.4 229.9 230.2C231.0 231.0 232.1 231.7 233.2 232.5C234.3 233.3 235.4 234.1 236.5 234.9C237.6 235.7 238.7 236.5 239.8 237.3C240.8 238.1 241.9 238.8 243.0 239.6C244.1 240.4 245.2 241.2 246.3 242.0C247.4 242.8 248.5 243.6 249.5 244.4C250.6 245.2 251.7 246.0 252.8 246.8C253.9 247.6 254.9 248.4 256.0 249.2C257.1 250.0 258.2 250.8 259.3 251.6C260.3 252.5 261.4 253.3 262.5 254.1C263.6 254.9 264.6 255.7 265.7 256.5C266.8 257.3 267.8 258.1 268.9 259.0C270.0 259.8 271.0 260.6 272.1 261.4C273.2 262.2 274.2 263.1 275.3 263.9C276.3 264.7 277.4 265.5 278.5 266.4C279.5 267.2 280.6 268.0 281.6 268.9C282.7 269.7 283.7 270.6 284.7 271.4C285.8 272.3 286.8 273.1 287.9 274.0C288.9 274.8 289.9 275.7 290.9 276.5C292.0 277.4 293.0 278.3 294.0 279.1C295.0 280.0 296.1 280.9 297.1 281.8C298.1 282.6 299.1 283.5 300.1 284.4C301.1 285.3 302.1 286.2 303.1 287.1C304.1 288.0 305.1 288.9 306.0 289.8C307.0 290.7 308.0 291.6 309.0 292.6C309.9 293.5 310.9 294.4 311.9 295.4C312.8 296.3 313.8 297.2 314.7 298.2C315.7 299.1 316.6 300.1 317.6 301.1C318.5 302.0 319.4 303.0 320.3 304.0C321.3 305.0 322.2 305.9 323.1 306.9C324.0 307.9 324.9 308.9 325.8 309.9C326.7 310.9 327.6 311.9 328.5 313.0C329.4 314.0 330.2 315.0 331.1 316.0C332.0 317.1 332.9 318.1 333.7 319.2C334.6 320.2 335.4 321.2 336.3 322.3C337.2 323.3 338.0 324.4 338.9 325.4C339.7 326.5 340.6 327.6 341.4 328.6C342.2 329.7 343.1 330.7 343.9 331.8C344.8 332.9 345.6 333.9 346.4 335.0C347.3 336.1 348.1 337.1 348.9 338.2C349.8 339.3 350.6 340.3 351.4 341.4C352.2 342.4 353.1 343.5 353.9 344.6C354.7 345.6 355.6 346.7 356.4 347.8C357.2 348.8 358.0 349.9 358.8 351.0C359.6 352.0 360.4 353.1 361.2 354.2C361.9 355.3 362.7 356.4 363.4 357.5C364.2 358.6 364.9 359.7 365.6 360.9C366.3 362.0 366.9 363.2 367.6 364.3C368.2 365.5 368.8 366.7 369.4 367.9C370.0 369.1 370.6 370.3 371.1 371.5C371.7 372.7 372.2 373.9 372.7 375.2C373.2 376.4 373.7 377.6 374.1 378.9C374.6 380.2 375.0 381.4 375.4 382.7C375.8 384.0 376.1 385.3 376.5 386.6C376.8 387.9 377.1 389.2 377.4 390.5C377.7 391.9 377.9 393.2 378.1 394.5C378.4 395.9 378.6 397.2 378.7 398.6C378.9 399.9 379.1 401.3 379.2 402.7C379.3 404.0 379.4 405.4 379.4 406.8C379.5 408.2 379.5 409.6 379.5 411.0C379.5 412.4 379.4 414.5 379.4 415.2"/>
<path d="M341.8 29.9C341.9 30.5 342.5 32.5 342.8 33.8C343.2 35.1 343.6 36.4 343.9 37.7C344.3 39.0 344.7 40.3 345.0 41.6C345.4 42.9 345.8 44.2 346.2 45.5C346.6 46.8 346.9 48.1 347.3 49.4C347.7 50.7 348.1 52.0 348.5 53.3C348.8 54.6 349.2 55.9 349.6 57.1C350.0 58.4 350.4 59.7 350.8 61.0C351.2 62.3 351.6 63.6 352.0 64.9C352.4 66.2 352.8 67.5 353.2 68.8C353.6 70.1 354.0 71.4 354.4 72.7C354.8 74.0 355.2 75.3 355.6 76.6C356.0 77.9 356.4 79.1 356.8 80.4C357.3 81.7 357.7 83.0 358.1 84.3C358.5 85.6 358.9 86.9 359.3 88.2C359.7 89.5 360.2 90.8 360.6 92.1C361.0 93.4 361.4 94.7 361.8 95.9C362.3 97.2 362.7 98.5 363.1 99.8C363.5 101.1 364.0 102.4 364.4 103.7C364.8 105.0 365.2 106.3 365.7 107.6C366.1 108.9 366.5 110.1 366.9 111.4C367.4 112.7 367.8 114.0 368.2 115.3C368.7 116.6 369.1 117.9 369.5 119.2C370.0 120.5 370.4 121.8 370.8 123.0C371.3 124.3 371.7 125.6 372.1 126.9C372.6 128.2 373.0 129.5 373.4 130.8C373.9 132.1 374.3 133.4 374.7 134.6C375.2 135.9 375.6 137.2 376.1 138.5C376.5 139.8 376.9 141.1 377.4 142.4C377.8 143.7 378.2 145.0 378.7 146.3C379.1 147.5 379.6 148.8 380.0 150.1C380.4 151.4 380.9 152.7 381.3 154.0C381.7 155.3 382.2 156.6 382.6 157.9C383.0 159.2 383.5 160.4 383.9 161.7C384.4 163.0 384.8 164.3 385.2 165.6C385.7 166.9 386.1 168.2 386.5 169.5C387.0 170.8 387.4 172.1 387.8 173.4C388.3 174.6 388.7 175.9 389.1 177.2C389.6 178.5 390.0 179.8 390.4 181.1C390.9 182.4 391.3 183.7 391.7 185.0C392.2 186.3 392.6 187.6 393.0 188.9C393.4 190.2 393.9 191.4 394.3 192.7C394.7 194.0 395.2 195.3 395.6 196.6C396.0 197.9 396.4 199.2 396.8 200.5C397.3 201.8 397.7 203.1 398.1 204.4C398.5 205.7 399.0 207.0 399.4 208.3C399.8 209.6 400.2 210.9 400.6 212.2C401.0 213.5 401.4 214.8 401.9 216.1C402.3 217.3 402.7 218.6 403.1 219.9C403.5 221.2 403.9 222.5 404.3 223.8C404.7 225.1 405.1 226.4 405.5 227.7C405.9 229.0 406.3 230.3 406.7 231.6C407.1 232.9 407.5 234.2 407.9 235.5C408.3 236.8 408.7 238.1 409.1 239.4C409.5 240.7 409.9 242.0 410.3 243.3C410.7 244.6 411.0 245.9 411.4 247.2C411.8 248.6 412.2 249.9 412.6 251.2C413.0 252.5 413.3 253.8 413.7 255.1C414.1 256.4 414.5 257.7 414.8 259.0C415.2 260.3 415.6 261.6 415.9 262.9C416.3 264.2 416.7 265.5 417.0 266.8C417.4 268.1 417.7 269.4 418.1 270.8C418.4 272.1 418.8 273.4 419.1 274.7C419.5 276.0 419.8 277.3 420.2 278.6C420.5 279.9 420.9 281.2 421.2 282.6C421.5 283.9 421.9 285.2 422.2 286.5C422.5 287.8 422.9 289.1 423.2 290.4C423.5 291.8 423.9 293.1 424.2 294.4C424.5 295.7 424.8 297.0 425.1 298.3C425.4 299.7 425.8 301.0 426.1 302.3C426.4 303.6 426.7 304.9 427.0 306.3C427.3 307.6 427.6 308.9 427.9 310.2C428.2 311.5 428.4 312.9 428.7 314.2C429.0 315.5 429.3 316.8 429.6 318.2C429.9 319.5 430.1 320.8 430.4 322.1C430.7 323.5 431.0 324.8 431.2 326.1C431.5 327.4 431.7 328.8 432.0 330.1C432.3 331.4 432.5 332.8 432.8 334.1C433.0 335.4 433.3 336.8 433.5 338.1C433.7 339.4 434.0 340.8 434.2 342.1C434.4 343.4 434.7 344.8 434.9 346.1C435.1 347.4 435.3 348.8 435.6 350.1C435.8 351.4 436.0 352.8 436.2 354.1C436.4 355.5 436.6 356.8 436.8 358.1C437.0 359.5 437.2 360.8 437.4 362.2C437.6 363.5 437.8 364.9 437.9 366.2C438.1 367.5 438.3 368.9 438.5 370.2C438.6 371.6 438.8 372.9 439.0 374.3C439.1 375.6 439.3 377.0 439.4 378.3C439.6 379.7 439.7 381.0 439.9 382.4C440.0 383.7 440.1 385.1 440.3 386.4C440.4 387.8 440.5 389.2 440.7 390.5C440.8 391.9 440.9 393.2 441.0 394.6C441.1 395.9 441.2 397.3 441.3 398.7C441.4 400.0 441.5 401.4 441.6 402.7C441.7 404.1 441.8 405.5 441.9 406.8C441.9 408.2 442.0 409.6 442.1 410.9C442.1 412.3 442.2 414.4 442.3 415.0"/>
</g>
<path d="M54.5 212.2C55.1 212.3 57.1 212.8 58.4 213.2C59.7 213.6 61.0 213.9 62.3 214.3C63.6 214.7 64.9 215.0 66.2 215.4C67.5 215.8 68.8 216.2 70.1 216.6C71.4 217.0 72.7 217.4 74.0 217.8C75.3 218.2 76.6 218.7 77.9 219.1C79.1 219.5 80.4 219.9 81.7 220.4C83.0 220.8 84.3 221.2 85.6 221.7C86.9 222.1 88.1 222.6 89.4 223.1C90.7 223.5 92.0 224.0 93.3 224.4C94.5 224.9 95.8 225.4 97.1 225.9C98.4 226.3 99.6 226.8 100.9 227.3C102.2 227.8 103.5 228.3 104.7 228.8C106.0 229.3 107.3 229.8 108.5 230.3C109.8 230.8 111.1 231.3 112.4 231.8C113.6 232.3 114.9 232.8 116.1 233.3C117.4 233.8 118.7 234.3 119.9 234.8C121.2 235.4 122.5 235.9 123.7 236.4C125.0 236.9 126.3 237.5 127.5 238.0C128.8 238.5 130.0 239.0 131.3 239.6C132.5 240.1 133.8 240.6 135.1 241.2C136.3 241.7 137.6 242.2 138.8 242.8C140.1 243.3 141.3 243.9 142.6 244.4C143.8 244.9 145.1 245.5 146.4 246.0C147.6 246.5 148.9 247.1 150.1 247.6C151.4 248.2 152.6 248.7 153.9 249.2C155.1 249.8 156.4 250.3 157.6 250.9C158.9 251.4 160.1 251.9 161.4 252.5C162.6 253.0 163.9 253.5 165.1 254.1C166.4 254.6 167.6 255.2 168.8 255.7C170.1 256.2 171.3 256.8 172.6 257.3C173.8 257.8 175.1 258.4 176.3 258.9C177.6 259.5 178.8 260.0 180.0 260.5C181.3 261.1 182.5 261.6 183.8 262.2C185.0 262.7 186.2 263.3 187.5 263.8C188.7 264.4 189.9 264.9 191.2 265.5C192.4 266.0 193.7 266.6 194.9 267.1C196.1 267.7 197.4 268.2 198.6 268.8C199.8 269.3 201.0 269.9 202.3 270.5C203.5 271.0 204.7 271.6 206.0 272.2C207.2 272.7 208.4 273.3 209.6 273.9C210.9 274.4 212.1 275.0 213.3 275.6C214.5 276.2 215.7 276.8 217.0 277.3C218.2 277.9 219.4 278.5 220.6 279.1C221.8 279.7 223.0 280.3 224.2 280.9C225.5 281.5 226.7 282.1 227.9 282.7C229.1 283.3 230.3 283.9 231.5 284.5C232.7 285.1 233.9 285.8 235.1 286.4C236.3 287.0 237.5 287.6 238.7 288.3C239.9 288.9 241.1 289.5 242.3 290.2C243.5 290.8 244.7 291.5 245.9 292.1C247.1 292.8 248.3 293.4 249.4 294.1C250.6 294.7 251.8 295.4 253.0 296.1C254.2 296.7 255.4 297.4 256.5 298.1C257.7 298.8 258.9 299.5 260.1 300.2C261.3 300.9 262.4 301.6 263.6 302.3C264.8 303.0 265.9 303.7 267.1 304.4C268.3 305.1 269.4 305.9 270.6 306.6C271.7 307.3 272.9 308.1 274.1 308.8C275.2 309.6 276.4 310.3 277.5 311.1C278.6 311.8 279.8 312.6 280.9 313.4C282.1 314.1 283.2 314.9 284.3 315.7C285.5 316.5 286.6 317.3 287.7 318.1C288.8 318.9 289.9 319.7 291.0 320.5C292.1 321.3 293.2 322.1 294.3 323.0C295.4 323.8 296.5 324.6 297.6 325.5C298.7 326.3 299.7 327.2 300.8 328.0C301.9 328.9 302.9 329.7 304.0 330.6C305.0 331.5 306.1 332.4 307.1 333.2C308.2 334.1 309.2 335.0 310.2 335.9C311.2 336.8 312.3 337.8 313.3 338.7C314.3 339.6 315.3 340.5 316.2 341.5C317.2 342.4 318.2 343.3 319.2 344.3C320.1 345.2 321.1 346.2 322.0 347.2C323.0 348.1 323.9 349.1 324.8 350.1C325.8 351.1 326.7 352.1 327.6 353.1C328.5 354.1 329.4 355.1 330.3 356.1C331.2 357.2 332.0 358.2 332.9 359.2C333.7 360.3 334.6 361.3 335.4 362.4C336.2 363.4 337.0 364.5 337.8 365.6C338.6 366.7 339.4 367.8 340.2 368.9C340.9 370.0 341.7 371.1 342.4 372.2C343.1 373.3 343.9 374.5 344.5 375.6C345.2 376.8 345.9 377.9 346.5 379.1C347.2 380.3 347.8 381.5 348.4 382.7C349.0 383.9 349.6 385.1 350.1 386.3C350.7 387.6 351.2 388.8 351.7 390.1C352.2 391.3 352.7 392.6 353.2 393.9C353.6 395.2 354.1 396.5 354.5 397.8C354.9 399.2 355.2 400.5 355.6 401.9C355.9 403.2 356.3 405.3 356.5 406.0" fill="none" stroke="#0000ff" stroke-width="2.0" stroke-dasharray="2.7 1.2"/>
<path d="M56.4 160.3C57.0 160.7 58.7 161.6 59.9 162.2C61.1 162.9 62.2 163.5 63.4 164.1C64.6 164.7 65.7 165.4 66.9 166.0C68.1 166.6 69.2 167.2 70.4 167.8C71.6 168.5 72.8 169.1 73.9 169.7C75.1 170.3 76.3 171.0 77.5 171.6C78.7 172.2 79.8 172.8 81.0 173.4C82.2 174.0 83.4 174.7 84.6 175.3C85.7 175.9 86.9 176.5 88.1 177.1C89.3 177.7 90.5 178.4 91.7 179.0C92.9 179.6 94.0 180.2 95.2 180.8C96.4 181.4 97.6 182.0 98.8 182.6C100.0 183.3 101.2 183.9 102.4 184.5C103.6 185.1 104.8 185.7 105.9 186.3C107.1 186.9 108.3 187.6 109.5 188.2C110.7 188.8 111.9 189.4 113.1 190.0C114.3 190.6 115.5 191.2 116.7 191.8C117.9 192.5 119.1 193.1 120.3 193.7C121.5 194.3 122.7 194.9 123.9 195.5C125.1 196.1 126.3 196.7 127.5 197.4C128.7 198.0 129.9 198.6 131.1 199.2C132.2 199.8 133.4 200.4 134.6 201.1C135.8 201.7 137.0 202.3 138.2 202.9C139.4 203.5 140.6 204.1 141.8 204.8C143.0 205.4 144.2 206.0 145.4 206.6C146.6 207.2 147.8 207.9 149.0 208.5C150.2 209.1 151.4 209.7 152.6 210.4C153.8 211.0 155.0 211.6 156.2 212.2C157.4 212.9 158.6 213.5 159.8 214.1C161.0 214.7 162.2 215.4 163.4 216.0C164.6 216.6 165.8 217.3 166.9 217.9C168.1 218.5 169.3 219.2 170.5 219.8C171.7 220.4 172.9 221.1 174.1 221.7C175.3 222.4 176.5 223.0 177.7 223.6C178.9 224.3 180.0 224.9 181.2 225.6C182.4 226.2 183.6 226.9 184.8 227.5C186.0 228.2 187.2 228.8 188.4 229.5C189.5 230.1 190.7 230.8 191.9 231.4C193.1 232.1 194.3 232.7 195.4 233.4C196.6 234.1 197.8 234.7 199.0 235.4C200.2 236.0 201.3 236.7 202.5 237.4C203.7 238.0 204.9 238.7 206.0 239.4C207.2 240.1 208.4 240.7 209.6 241.4C210.7 242.1 211.9 242.8 213.1 243.5C214.2 244.1 215.4 244.8 216.6 245.5C217.7 246.2 218.9 246.9 220.0 247.6C221.2 248.3 222.4 249.0 223.5 249.6C224.7 250.3 225.8 251.0 227.0 251.7C228.1 252.4 229.3 253.2 230.5 253.9C231.6 254.6 232.8 255.3 233.9 256.0C235.0 256.7 236.2 257.4 237.3 258.1C238.5 258.9 239.6 259.6 240.8 260.3C241.9 261.0 243.0 261.7 244.2 262.5C245.3 263.2 246.5 263.9 247.6 264.7C248.7 265.4 249.8 266.2 251.0 266.9C252.1 267.6 253.2 268.4 254.3 269.1C255.5 269.9 256.6 270.6 257.7 271.4C258.8 272.2 259.9 272.9 261.1 273.7C262.2 274.4 263.3 275.2 264.4 276.0C265.5 276.7 266.6 277.5 267.7 278.3C268.8 279.1 269.9 279.9 271.0 280.6C272.1 281.4 273.2 282.2 274.3 283.0C275.4 283.8 276.5 284.6 277.6 285.4C278.7 286.2 279.8 287.0 280.8 287.8C281.9 288.6 283.0 289.4 284.1 290.2C285.2 291.1 286.2 291.9 287.3 292.7C288.4 293.5 289.4 294.4 290.5 295.2C291.6 296.0 292.6 296.9 293.7 297.7C294.7 298.5 295.8 299.4 296.9 300.2C297.9 301.1 299.0 301.9 300.0 302.8C301.0 303.7 302.1 304.5 303.1 305.4C304.1 306.3 305.2 307.1 306.2 308.0C307.2 308.9 308.2 309.8 309.2 310.7C310.3 311.6 311.3 312.5 312.3 313.4C313.3 314.3 314.3 315.2 315.2 316.1C316.2 317.0 317.2 317.9 318.2 318.8C319.2 319.8 320.1 320.7 321.1 321.6C322.0 322.6 323.0 323.5 323.9 324.5C324.9 325.4 325.8 326.4 326.7 327.3C327.6 328.3 328.6 329.3 329.5 330.2C330.4 331.2 331.3 332.2 332.2 333.2C333.0 334.2 333.9 335.2 334.8 336.2C335.7 337.2 336.5 338.2 337.4 339.2C338.2 340.2 339.1 341.3 339.9 342.3C340.7 343.3 341.5 344.4 342.3 345.4C343.1 346.5 343.9 347.5 344.7 348.6C345.5 349.7 346.3 350.7 347.0 351.8C347.8 352.9 348.5 354.0 349.2 355.1C350.0 356.2 350.7 357.3 351.4 358.4C352.1 359.5 352.8 360.6 353.5 361.8C354.2 362.9 354.8 364.0 355.5 365.2C356.1 366.3 356.8 367.5 357.4 368.7C358.0 369.8 358.6 371.0 359.2 372.2C359.8 373.4 360.4 374.6 360.9 375.8C361.5 377.0 362.0 378.2 362.6 379.4C363.1 380.6 363.6 381.9 364.1 383.1C364.6 384.4 365.1 385.6 365.6 386.9C366.0 388.1 366.5 389.4 366.9 390.7C367.3 392.0 367.7 393.3 368.1 394.6C368.5 395.9 368.9 397.2 369.3 398.5C369.6 399.8 370.0 401.2 370.3 402.5C370.6 403.9 370.9 405.2 371.2 406.6C371.5 408.0 371.7 409.4 372.0 410.7C372.2 412.1 372.5 414.2 372.7 415.0" fill="none" stroke="#0000ff" stroke-width="1.8"/>
<rect x="91.9" y="53.3" width="18.0" height="14.0" fill="#fff" stroke="#0000ff" stroke-width="1"/><text x="100.9" y="62.8" font-size="7.5" fill="#0000ff" text-anchor="middle">200</text>
<rect x="329.6" y="17.5" width="18.3" height="14.7" fill="#fff" stroke="#0000ff" stroke-width="1"/><text x="338.7" y="27.4" font-size="7.5" fill="#0000ff" text-anchor="middle">250</text>
<rect x="51.8" y="113.4" width="17.0" height="13.0" fill="#fff" stroke="#0000ff" stroke-width="1"/><text x="60.3" y="122.4" font-size="7.5" fill="#0000ff" text-anchor="middle">160</text>
<rect x="47.3" y="154.0" width="17.0" height="13.7" fill="#fff" stroke="#0000ff" stroke-width="1"/><text x="55.8" y="163.3" font-size="7.5" fill="#0000ff" text-anchor="middle">125</text>
<rect x="350.3" y="404.8" width="11.8" height="13.1" fill="#fff" stroke="#0000ff" stroke-width="1"/><text x="356.2" y="413.8" font-size="7.5" fill="#0000ff" text-anchor="middle">0</text>
<circle cx="313.3" cy="315" r="3.7" fill="#000"/>
<path d="M54.4 21.8 L298.3 21.8 L298.3 21.7C298.3 22.4 298.2 24.5 298.2 25.9C298.1 27.3 298.1 28.7 298.0 30.1C298.0 31.4 297.9 32.8 297.9 34.2C297.8 35.6 297.8 37.0 297.7 38.3C297.7 39.7 297.6 41.1 297.6 42.5C297.5 43.8 297.5 45.2 297.4 46.5C297.4 47.9 297.3 49.3 297.2 50.6C297.2 52.0 297.1 53.3 297.1 54.7C297.0 56.0 297.0 57.4 296.9 58.7C296.9 60.1 296.8 61.4 296.8 62.7C296.7 64.1 296.7 65.4 296.6 66.8C296.6 68.1 296.5 69.4 296.5 70.8C296.4 72.1 296.3 73.4 296.3 74.7C296.2 76.1 296.2 77.4 296.1 78.7C296.1 80.1 296.0 81.4 295.9 82.7C295.9 84.0 295.8 85.3 295.7 86.7C295.7 88.0 295.6 89.3 295.5 90.6C295.5 91.9 295.4 93.3 295.3 94.6C295.3 95.9 295.2 97.2 295.1 98.5C295.1 99.8 295.0 101.2 294.9 102.5C294.8 103.8 294.8 105.1 294.7 106.4C294.6 107.7 294.5 109.1 294.5 110.4C294.4 111.7 294.3 113.0 294.2 114.3C294.1 115.7 294.0 117.0 293.9 118.3C293.9 119.6 293.8 120.9 293.7 122.2C293.6 123.6 293.5 124.9 293.4 126.2C293.3 127.5 293.2 128.9 293.1 130.2C293.0 131.5 292.9 132.8 292.8 134.2C292.7 135.5 292.6 136.8 292.5 138.2C292.4 139.5 292.2 140.8 292.1 142.2C292.0 143.5 291.9 144.8 291.8 146.2C291.7 147.5 291.5 148.9 291.4 150.2C291.3 151.6 291.2 152.9 291.0 154.3C290.9 155.6 290.8 157.0 290.6 158.3C290.5 159.7 290.3 161.0 290.2 162.4C290.1 163.8 289.9 165.1 289.8 166.5C289.6 167.9 289.5 169.2 289.3 170.6C289.1 172.0 289.0 173.3 288.8 174.7C288.6 176.1 288.5 177.5 288.3 178.8C288.1 180.2 287.9 181.6 287.7 183.0C287.5 184.3 287.2 185.7 287.0 187.1C286.8 188.4 286.5 189.8 286.3 191.1C286.0 192.5 285.7 193.9 285.5 195.2C285.2 196.5 284.9 197.9 284.6 199.2C284.2 200.6 283.9 201.9 283.5 203.2C283.2 204.5 282.8 205.8 282.4 207.1C282.0 208.4 281.6 209.7 281.2 211.0C280.7 212.3 280.3 213.6 279.8 214.8C279.3 216.1 278.8 217.3 278.3 218.6C277.7 219.8 277.2 221.0 276.6 222.2C276.0 223.4 275.4 224.6 274.7 225.8C274.1 227.0 273.4 228.2 272.7 229.3C272.0 230.5 271.3 231.6 270.5 232.7C269.8 233.8 269.0 234.9 268.2 236.0C267.4 237.1 266.5 238.1 265.7 239.2C264.8 240.2 263.9 241.2 263.0 242.2C262.1 243.1 261.2 244.1 260.2 245.0C259.3 246.0 258.3 246.9 257.3 247.7C256.3 248.6 255.3 249.4 254.3 250.2C253.2 251.1 252.2 251.8 251.1 252.6C250.0 253.3 248.9 254.0 247.8 254.7C246.7 255.4 245.6 256.0 244.5 256.6C243.3 257.2 242.2 257.8 241.0 258.3C239.8 258.8 238.6 259.3 237.4 259.7C236.2 260.2 235.0 260.6 233.8 260.9C232.6 261.3 231.3 261.6 230.1 261.9C228.9 262.1 227.6 262.3 226.3 262.5C225.1 262.7 223.8 262.8 222.5 262.8C221.2 262.9 219.9 262.9 218.6 262.9C217.3 262.9 216.0 262.8 214.7 262.6C213.4 262.5 212.1 262.3 210.8 262.1C209.5 261.9 208.1 261.6 206.8 261.3C205.5 261.0 204.2 260.6 202.8 260.3C201.5 259.9 200.2 259.5 198.9 259.0C197.5 258.6 196.2 258.2 194.9 257.7C193.6 257.2 192.3 256.7 191.0 256.2C189.7 255.7 188.4 255.2 187.1 254.6C185.8 254.1 184.5 253.6 183.2 253.0C181.9 252.4 180.7 251.9 179.4 251.3C178.1 250.7 176.9 250.1 175.6 249.6C174.3 249.0 173.1 248.4 171.8 247.8C170.6 247.2 169.3 246.6 168.1 246.0C166.8 245.4 165.6 244.8 164.4 244.2C163.1 243.6 161.9 242.9 160.6 242.3C159.4 241.7 158.2 241.1 156.9 240.5C155.7 239.9 154.5 239.3 153.2 238.7C152.0 238.1 150.8 237.6 149.6 237.0C148.3 236.4 147.1 235.8 145.9 235.2C144.7 234.6 143.4 234.0 142.2 233.5C141.0 232.9 139.8 232.3 138.6 231.7C137.4 231.1 136.2 230.5 135.0 229.9C133.8 229.3 132.6 228.7 131.5 228.1C130.3 227.4 129.1 226.8 128.0 226.2C126.8 225.5 125.6 224.9 124.5 224.2C123.3 223.6 122.2 222.9 121.1 222.2C120.0 221.6 118.8 220.9 117.7 220.1C116.6 219.4 115.5 218.7 114.5 218.0C113.4 217.2 112.3 216.5 111.3 215.7C110.2 214.9 109.2 214.1 108.1 213.3C107.1 212.5 106.1 211.6 105.1 210.8C104.1 209.9 103.1 209.0 102.1 208.1C101.1 207.3 100.2 206.3 99.2 205.4C98.3 204.5 97.3 203.6 96.4 202.6C95.4 201.7 94.5 200.7 93.6 199.7C92.7 198.7 91.8 197.7 90.9 196.7C90.1 195.7 89.2 194.7 88.3 193.6C87.5 192.6 86.6 191.6 85.8 190.5C84.9 189.5 84.1 188.4 83.3 187.3C82.5 186.2 81.7 185.1 80.9 184.0C80.1 182.9 79.3 181.8 78.5 180.7C77.7 179.6 77.0 178.5 76.2 177.4C75.5 176.2 74.7 175.1 74.0 173.9C73.2 172.8 72.5 171.6 71.8 170.5C71.1 169.3 70.4 168.2 69.7 167.0C69.0 165.8 68.3 164.7 67.6 163.5C66.9 162.3 66.3 161.1 65.6 160.0C64.9 158.8 64.3 157.6 63.6 156.4C63.0 155.2 62.4 154.0 61.7 152.9C61.1 151.7 60.5 150.5 59.9 149.3C59.2 148.1 58.6 146.9 58.0 145.7C57.4 144.6 56.9 143.4 56.3 142.2C55.7 141.0 54.8 139.2 54.5 138.7 Z" fill="#ff8000" fill-opacity="0.3"/>
<rect x="46.5" y="17.5" width="404.5" height="405.0" fill="none" stroke="#8a8a8a" stroke-width="0.8"/>
<path d="M54.3 422.5 v-3.6 M54.3 17.5 v3.6 M67.2 422.5 v-2.2 M67.2 17.5 v2.2 M80.2 422.5 v-2.2 M80.2 17.5 v2.2 M93.1 422.5 v-2.2 M93.1 17.5 v2.2 M106.1 422.5 v-3.6 M106.1 17.5 v3.6 M119.0 422.5 v-2.2 M119.0 17.5 v2.2 M132.0 422.5 v-2.2 M132.0 17.5 v2.2 M144.9 422.5 v-2.2 M144.9 17.5 v2.2 M157.9 422.5 v-3.6 M157.9 17.5 v3.6 M170.8 422.5 v-2.2 M170.8 17.5 v2.2 M183.7 422.5 v-2.2 M183.7 17.5 v2.2 M196.7 422.5 v-2.2 M196.7 17.5 v2.2 M209.6 422.5 v-3.6 M209.6 17.5 v3.6 M222.6 422.5 v-2.2 M222.6 17.5 v2.2 M235.5 422.5 v-2.2 M235.5 17.5 v2.2 M248.5 422.5 v-2.2 M248.5 17.5 v2.2 M261.4 422.5 v-3.6 M261.4 17.5 v3.6 M274.4 422.5 v-2.2 M274.4 17.5 v2.2 M287.3 422.5 v-2.2 M287.3 17.5 v2.2 M300.3 422.5 v-2.2 M300.3 17.5 v2.2 M313.2 422.5 v-3.6 M313.2 17.5 v3.6 M326.1 422.5 v-2.2 M326.1 17.5 v2.2 M339.1 422.5 v-2.2 M339.1 17.5 v2.2 M352.0 422.5 v-2.2 M352.0 17.5 v2.2 M365.0 422.5 v-3.6 M365.0 17.5 v3.6 M377.9 422.5 v-2.2 M377.9 17.5 v2.2 M390.9 422.5 v-2.2 M390.9 17.5 v2.2 M403.8 422.5 v-2.2 M403.8 17.5 v2.2 M416.8 422.5 v-3.6 M416.8 17.5 v3.6 M429.7 422.5 v-2.2 M429.7 17.5 v2.2 M442.6 422.5 v-2.2 M442.6 17.5 v2.2 M46.5 415.3 h3.6 M451.0 415.3 h-3.6 M46.5 395.6 h2.2 M451.0 395.6 h-2.2 M46.5 376.0 h2.2 M451.0 376.0 h-2.2 M46.5 356.3 h2.2 M451.0 356.3 h-2.2 M46.5 336.6 h2.2 M451.0 336.6 h-2.2 M46.5 316.9 h3.6 M451.0 316.9 h-3.6 M46.5 297.3 h2.2 M451.0 297.3 h-2.2 M46.5 277.6 h2.2 M451.0 277.6 h-2.2 M46.5 257.9 h2.2 M451.0 257.9 h-2.2 M46.5 238.3 h2.2 M451.0 238.3 h-2.2 M46.5 218.6 h3.6 M451.0 218.6 h-3.6 M46.5 198.9 h2.2 M451.0 198.9 h-2.2 M46.5 179.3 h2.2 M451.0 179.3 h-2.2 M46.5 159.6 h2.2 M451.0 159.6 h-2.2 M46.5 139.9 h2.2 M451.0 139.9 h-2.2 M46.5 120.2 h3.6 M451.0 120.2 h-3.6 M46.5 100.6 h2.2 M451.0 100.6 h-2.2 M46.5 80.9 h2.2 M451.0 80.9 h-2.2 M46.5 61.2 h2.2 M451.0 61.2 h-2.2 M46.5 41.6 h2.2 M451.0 41.6 h-2.2 M46.5 21.9 h3.6 M451.0 21.9 h-3.6" fill="none" stroke="#777" stroke-width="0.8"/>
<path d="M34.8 432h8.2" stroke="#000" stroke-width="1" fill="none"/>
<text x="44.4" y="436.6" font-size="15" fill="#000">1000</text>
<path d="M90.3 432h8.2" stroke="#000" stroke-width="1" fill="none"/>
<text x="99.9" y="436.6" font-size="15" fill="#000">800</text>
<path d="M142.1 432h8.2" stroke="#000" stroke-width="1" fill="none"/>
<text x="151.7" y="436.6" font-size="15" fill="#000">600</text>
<path d="M193.9 432h8.2" stroke="#000" stroke-width="1" fill="none"/>
<text x="203.5" y="436.6" font-size="15" fill="#000">400</text>
<path d="M245.7 432h8.2" stroke="#000" stroke-width="1" fill="none"/>
<text x="255.3" y="436.6" font-size="15" fill="#000">200</text>
<text x="313.2" y="436.6" font-size="15" text-anchor="middle" fill="#000">0</text>
<text x="365.0" y="436.6" font-size="15" text-anchor="middle" fill="#000">200</text>
<text x="416.8" y="436.6" font-size="15" text-anchor="middle" fill="#000">400</text>
<text x="43.8" y="419.9" font-size="15" text-anchor="end" fill="#000">0</text>
<text x="43.8" y="321.6" font-size="15" text-anchor="end" fill="#000">500</text>
<text x="43.8" y="223.2" font-size="15" text-anchor="end" fill="#000">1000</text>
<text x="43.8" y="124.8" font-size="15" text-anchor="end" fill="#000">1500</text>
<text x="43.8" y="26.5" font-size="15" text-anchor="end" fill="#000">2000</text>
<text x="217.5" y="452" font-size="17" fill="#000"><tspan font-style="italic">M</tspan><tspan font-style="italic" font-size="12" dy="3">s</tspan><tspan dy="-3"> (Gev)</tspan></text>
<text transform="translate(11,252.5) rotate(-90)" font-size="17" fill="#000"><tspan font-style="italic">m</tspan><tspan font-style="italic" font-size="12" dy="3">S</tspan><tspan dy="-3"> (GeV)</tspan></text>
<text x="189.2" y="102.8" font-size="16.5" fill="#94551a"><tspan font-style="italic">m</tspan><tspan font-style="italic" font-size="11.5" dy="2.5" dx="0.5">χ</tspan><tspan dy="-2.5" dx="1.5"> &lt; </tspan><tspan font-style="italic" dx="0.5">m</tspan><tspan font-style="italic" font-size="12" dy="3">h</tspan><tspan dy="-3">/2</tspan></text>
<text x="81.6" y="361.8" font-size="16" fill="#8b1a8b"><tspan font-style="italic">m</tspan><tspan font-style="italic" font-size="11" dy="3" dx="-0.5">h</tspan><tspan font-size="11" dy="-9.5" dx="0.8">2</tspan><tspan dy="6.5" dx="0.5"> &lt; 0</tspan></text>
<text x="408.3" y="84" font-size="16" fill="#0000ff"><tspan font-style="italic">m</tspan><tspan font-style="italic" font-size="11" dy="2.5" dx="-1.2">h</tspan></text>
<text x="405.2" y="103.7" font-size="16" fill="#ff0000">Δ<tspan font-style="italic" font-size="11.5" dy="1.8" dx="-0.3">m</tspan><tspan font-style="italic" font-size="8.5" dy="2" dx="-0.5">h</tspan></text>
</svg>
</body></html>
